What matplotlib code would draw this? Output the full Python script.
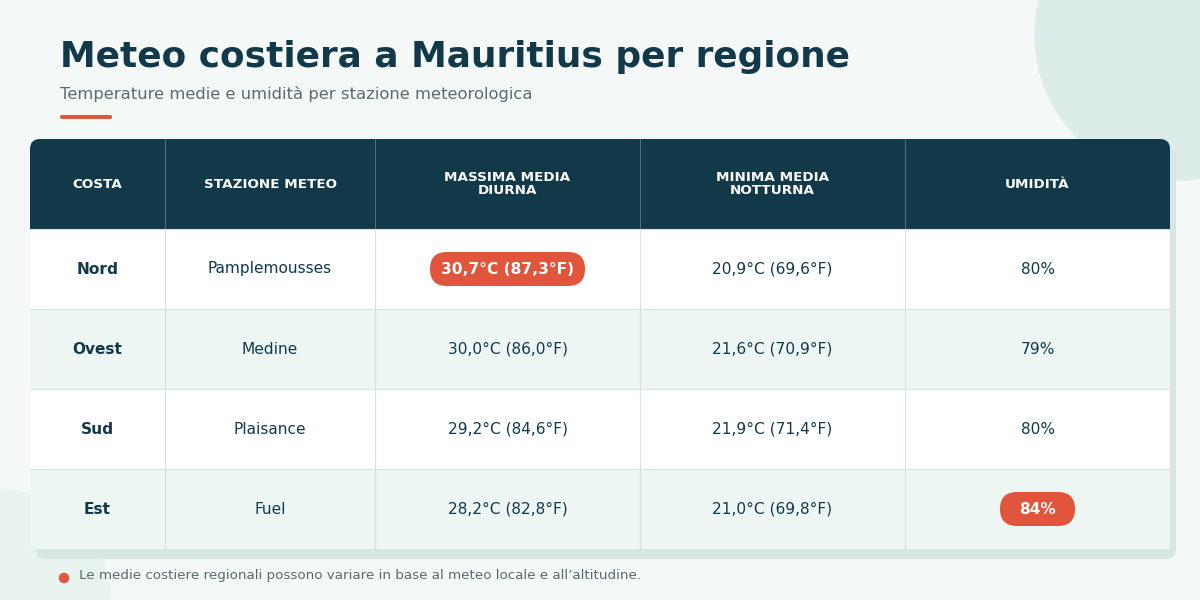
import matplotlib
matplotlib.use("Agg")
import matplotlib.pyplot as plt
from matplotlib.patches import FancyBboxPatch, Rectangle, Circle

coste = ["Nord", "Ovest", "Sud", "Est"]
stazioni = ["Pamplemousses", "Medine", "Plaisance", "Fuel"]
max_c = [30.7, 30.0, 29.2, 28.2]
max_f = [87.3, 86.0, 84.6, 82.8]
min_c = [20.9, 21.6, 21.9, 21.0]
min_f = [69.6, 70.9, 71.4, 69.8]
umidita = [80, 79, 80, 84]
headers = ["COSTA", "STAZIONE METEO", "MASSIMA MEDIA\nDIURNA", "MINIMA MEDIA\nNOTTURNA", "UMIDITÀ"]

def fmt(v):
    return f"{v:.1f}".replace(".", ",")

NAVY = "#12394a"; RED = "#e0553b"; BG = "#f4f9f7"; ALT = "#eef6f4"; GRID = "#d5e3e0"
fig = plt.figure(figsize=(12, 6), dpi=100, facecolor=BG)
ax = fig.add_axes([0, 0, 1, 1])
ax.set_xlim(0, 1200); ax.set_ylim(600, 0); ax.axis("off")

ax.add_patch(Circle((1180, 35), 145, color="#dcede9", zorder=0))
ax.add_patch(Circle((0, 600), 110, color="#e8f2ef", zorder=0))

ax.text(60, 57, "Meteo costiera a Mauritius per regione", fontsize=25.8, fontweight="bold",
        color=NAVY, va="center", ha="left")
ax.text(60, 94, "Temperature medie e umidità per stazione meteorologica", fontsize=11.8,
        color="#5a6b70", va="center", ha="left")
ax.add_patch(FancyBboxPatch((60, 115), 52, 4, boxstyle="round,pad=0,rounding_size=2", color=RED, lw=0))

cols = [30, 165, 375, 640, 905, 1170]
top, hh, rh = 139, 90, 80
ax.add_patch(FancyBboxPatch((36, top + 10), cols[-1] - cols[0], hh + 4 * rh,
             boxstyle="round,pad=0,rounding_size=10", color="#d8e6e2", lw=0, zorder=1))
ax.add_patch(FancyBboxPatch((30, top), cols[-1] - cols[0], hh + 20,
             boxstyle="round,pad=0,rounding_size=10", color=NAVY, lw=0, zorder=2))
for i in range(4):
    y0 = top + hh + i * rh
    ax.add_patch(Rectangle((30, y0), cols[-1] - 30, rh, color="white" if i % 2 == 0 else ALT, lw=0, zorder=2))
    ax.plot([30, 1170], [y0, y0], color=GRID, lw=0.8, zorder=3)
for j, x in enumerate(cols[1:-1]):
    ax.plot([x, x], [top, top + hh], color="#4d6e7a", lw=0.8, zorder=3)
    ax.plot([x, x], [top + hh, top + hh + 4 * rh], color=GRID, lw=0.8, zorder=3)

centers = [(cols[k] + cols[k + 1]) / 2 for k in range(5)]
for k, h in enumerate(headers):
    ax.text(centers[k], top + hh / 2, h, color="white", fontsize=9.7, fontweight="bold",
            ha="center", va="center", linespacing=1.0, zorder=4)

imax = max_c.index(max(max_c)); ium = umidita.index(max(umidita))
for i in range(4):
    yc = top + hh + i * rh + rh / 2
    cells = [coste[i], stazioni[i], f"{fmt(max_c[i])}°C ({fmt(max_f[i])}°F)",
             f"{fmt(min_c[i])}°C ({fmt(min_f[i])}°F)", f"{umidita[i]}%"]
    for k, t in enumerate(cells):
        hl = (k == 2 and i == imax) or (k == 4 and i == ium)
        if hl:
            w = 155 if k == 2 else 75
            ax.add_patch(FancyBboxPatch((centers[k] - w / 2, yc - 17), w, 34,
                         boxstyle="round,pad=0,rounding_size=17", color=RED, lw=0, zorder=4))
        ax.text(centers[k], yc, t, fontsize=11.1, ha="center", va="center", zorder=5,
                color="white" if hl else NAVY,
                fontweight="bold" if (k == 0 or hl) else "normal")

ax.add_patch(Circle((64, 578), 4.5, color=RED, zorder=4))
ax.text(79, 576, "Le medie costiere regionali possono variare in base al meteo locale e all’altitudine.",
        fontsize=9.7, color="#5a6b70", va="center", ha="left")

fig.savefig("out.png", dpi=100, facecolor=BG)
